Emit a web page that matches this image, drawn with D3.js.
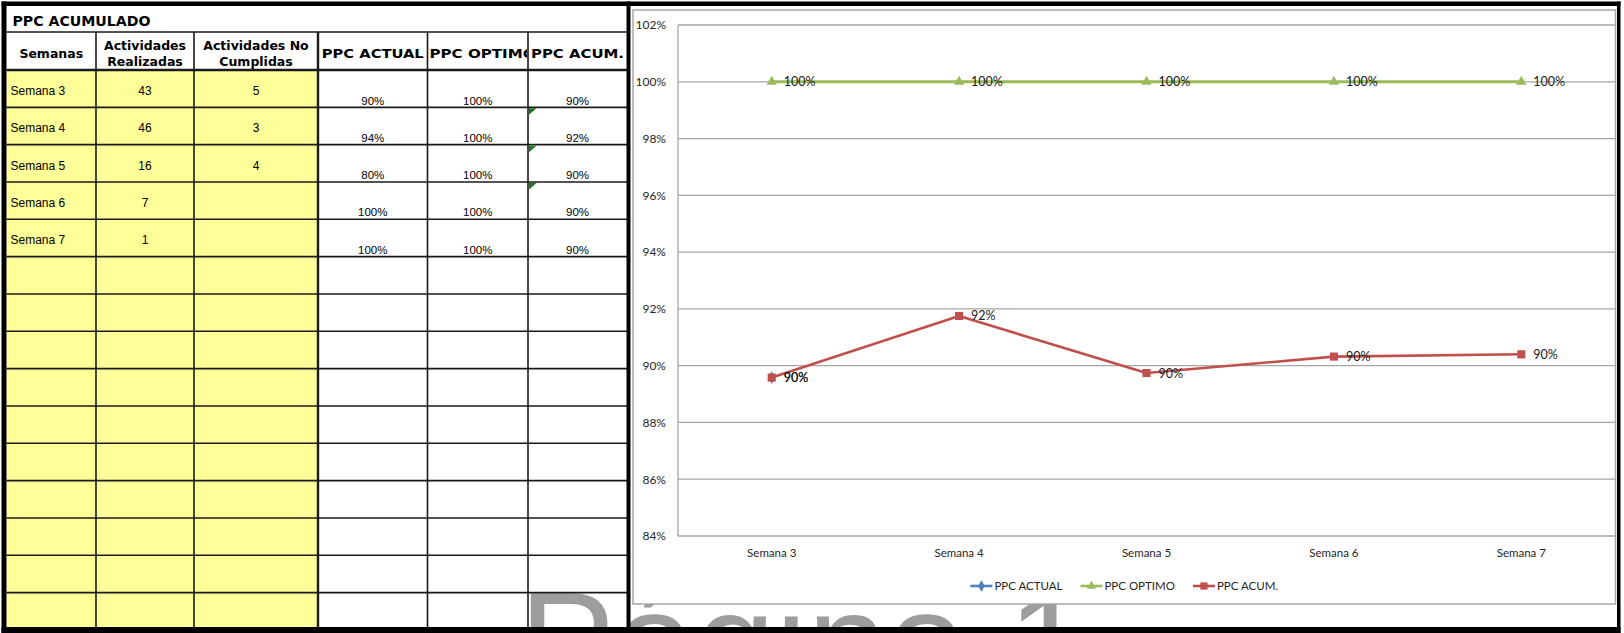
<!DOCTYPE html>
<html>
<head>
<meta charset="utf-8">
<script src="https://cdn.jsdelivr.net/npm/d3@7"></script>
<style>
  html, body { margin: 0; padding: 0; background: #ffffff; }
  svg { display: block; }
</style>
</head>
<body>
<svg id="chart" width="1624" height="633"></svg>
<script>
// ---------------- DATA ----------------
const semanas = ["Semana 3", "Semana 4", "Semana 5", "Semana 6", "Semana 7"];
const actividadesRealizadas = [43, 46, 16, 7, 1];
const actividadesNoCumplidas = [5, 3, 4, null, null];
const ppcActual = [0.8958, 0.9388, 0.80, 1.00, 1.00];          // table column
const ppcOptimo = [1.00, 1.00, 1.00, 1.00, 1.00];
const ppcAcum = [0.8958, 0.9175, 0.8974, 0.9032, 0.9040];
const ppcActualGrafico = [0.8958, null, null, null, null];     // chart series (only first point plotted)
const avisoCelda = [false, true, true, true, false];           // green corner marks in PPC ACUM. cells
const yTicks = [0.84, 0.86, 0.88, 0.90, 0.92, 0.94, 0.96, 0.98, 1.00, 1.02];
const tituloTabla = "PPC ACUMULADO";
const encabezados = [["Semanas"], ["Actividades", "Realizadas"], ["Actividades No", "Cumplidas"], ["PPC ACTUAL"], ["PPC OPTIMO"], ["PPC ACUM."]];
const filasVacias = 10;
const series = [
  { name: "PPC ACTUAL", values: ppcActualGrafico, color: "#4F81BD", symbol: d3.symbolDiamond, size: 48, width: 2.5 },
  { name: "PPC OPTIMO", values: ppcOptimo, color: "#9BBB59", symbol: d3.symbolTriangle, size: 46, width: 3 },
  { name: "PPC ACUM.", values: ppcAcum, color: "#C0504D", symbol: d3.symbolSquare, size: 66, width: 2.6 }
];
const marcaAgua = "Página 1";

// ---------------- LAYOUT ----------------
const svg = d3.select("#chart");
const W = 1624, H = 633;
svg.append("rect").attr("width", W).attr("height", H).attr("fill", "#ffffff");

const colX = [6.5, 96, 194, 318, 427.5, 528, 627];
const titleTop = 6, headerTop = 32, dataTop = 70, rowH = 37.33;
const nRows = semanas.length + filasVacias;
const tableBottom = dataTop + nRows * rowH;
const pctFmt = d3.format(".0%");

const table = svg.append("g");
table.append("rect").attr("x", colX[0]).attr("y", dataTop)
  .attr("width", colX[3] - colX[0]).attr("height", tableBottom - dataTop).attr("fill", "#FFFF99");

// watermark (behind chart, over table fill)
svg.append("text").attr("x", 519).attr("y", 693)
  .attr("font-family", "Liberation Sans, Arial, sans-serif").attr("font-size", 144)
  .attr("fill", "#9d9d9d").text(marcaAgua);

// table lines
const lines = svg.append("g").attr("stroke", "#1a1a1a");
lines.append("line").attr("x1", colX[0]).attr("x2", colX[6]).attr("y1", headerTop).attr("y2", headerTop).attr("stroke-width", 1.6);
lines.append("line").attr("x1", colX[0]).attr("x2", colX[6]).attr("y1", dataTop).attr("y2", dataTop).attr("stroke-width", 2.6);
d3.range(1, nRows).forEach(i => {
  lines.append("line").attr("x1", colX[0]).attr("x2", colX[6])
    .attr("y1", dataTop + i * rowH).attr("y2", dataTop + i * rowH).attr("stroke-width", 1.6);
});
colX.slice(1, 6).forEach((x, i) => {
  lines.append("line").attr("x1", x).attr("x2", x).attr("y1", headerTop).attr("y2", tableBottom)
    .attr("stroke-width", i === 2 ? 2.4 : 1.6);
});

// title
svg.append("text").attr("x", 12.5).attr("y", 25.5)
  .attr("font-family", "DejaVu Sans, Verdana, sans-serif").attr("font-weight", "bold")
  .attr("font-size", 13.5).attr("textLength", 138).attr("lengthAdjust", "spacingAndGlyphs")
  .attr("fill", "#000").text(tituloTabla);

// headers
const defs = svg.append("defs");
encabezados.forEach((hdr, c) => {
  const cx = (colX[c] + colX[c + 1]) / 2;
  defs.append("clipPath").attr("id", "clipH" + c).append("rect")
    .attr("x", colX[c] + 1).attr("y", headerTop).attr("width", colX[c + 1] - colX[c] - 2).attr("height", dataTop - headerTop);
  const g = svg.append("g").attr("clip-path", `url(#clipH${c})`);
  const base = t => t.attr("font-family", "DejaVu Sans, Verdana, sans-serif").attr("font-weight", "bold")
    .attr("font-size", 12.5).attr("fill", "#000");
  if (hdr.length === 2) {
    hdr.forEach((t, k) => {
      base(g.append("text").attr("x", cx).attr("y", k === 0 ? 49.5 : 65.5).attr("text-anchor", "middle")).text(t);
    });
  } else if (c === 4) {
    base(g.append("text").attr("x", colX[c] + 2).attr("y", 57.5).attr("text-anchor", "start"))
      .attr("textLength", 106).attr("lengthAdjust", "spacingAndGlyphs").text(hdr[0]);
  } else if (c >= 3) {
    const lens = {3: 102, 5: 93};
    base(g.append("text").attr("x", cx).attr("y", 57.5).attr("text-anchor", "middle"))
      .attr("textLength", lens[c]).attr("lengthAdjust", "spacingAndGlyphs").text(hdr[0]);
  } else {
    base(g.append("text").attr("x", cx).attr("y", 57.5).attr("text-anchor", "middle")).text(hdr[0]);
  }
});

// data cells
const cellFont = "Liberation Sans, Arial, sans-serif";
semanas.forEach((s, i) => {
  const top = dataTop + i * rowH;
  svg.append("text").attr("x", colX[0] + 4).attr("y", top + 25).attr("font-family", cellFont)
    .attr("font-size", 12).attr("fill", "#000").text(s);
  svg.append("text").attr("x", (colX[1] + colX[2]) / 2).attr("y", top + 25).attr("text-anchor", "middle")
    .attr("font-family", cellFont).attr("font-size", 12).attr("fill", "#000").text(actividadesRealizadas[i]);
  if (actividadesNoCumplidas[i] != null) {
    svg.append("text").attr("x", (colX[2] + colX[3]) / 2).attr("y", top + 25).attr("text-anchor", "middle")
      .attr("font-family", cellFont).attr("font-size", 12).attr("fill", "#000").text(actividadesNoCumplidas[i]);
  }
  [ppcActual[i], ppcOptimo[i], ppcAcum[i]].forEach((v, k) => {
    const c = 3 + k;
    svg.append("text").attr("x", (colX[c] + colX[c + 1]) / 2).attr("y", top + 34.5).attr("text-anchor", "middle")
      .attr("font-family", cellFont).attr("font-size", 11.5).attr("fill", "#000").text(pctFmt(v));
  });
  if (avisoCelda[i]) {
    const x0 = colX[5] + 1, y0 = top + 1;
    svg.append("path").attr("d", `M${x0},${y0}L${x0 + 7.5},${y0}L${x0},${y0 + 6.5}Z`).attr("fill", "#1F7A1F");
  }
});

// ---------------- CHART ----------------
const frame = { x: 633, y: 10, w: 982.5, h: 594 };
svg.append("rect").attr("x", frame.x).attr("y", frame.y).attr("width", frame.w).attr("height", frame.h)
  .attr("fill", "#ffffff").attr("stroke", "#a6a6a6").attr("stroke-width", 1.5);

const plot = { left: 678, right: 1615, top: 25, bottom: 536 };
const x = d3.scaleBand().domain(semanas).range([plot.left, plot.right]).padding(0);
const cx = d => x(d) + x.bandwidth() / 2;
const y = d3.scaleLinear().domain([0.84, 1.02]).range([plot.bottom, plot.top]);
const chartFont = "Lato, 'Open Sans', sans-serif";

svg.append("g").selectAll("line").data(yTicks).join("line")
  .attr("x1", plot.left).attr("x2", plot.right)
  .attr("y1", d => y(d)).attr("y2", d => y(d))
  .attr("stroke", "#a6a6a6").attr("stroke-width", 1.3);
svg.append("line").attr("x1", plot.left).attr("x2", plot.left).attr("y1", plot.top).attr("y2", plot.bottom)
  .attr("stroke", "#a6a6a6").attr("stroke-width", 1.3);

const yAxis = svg.append("g").attr("transform", `translate(${plot.left},0)`)
  .call(d3.axisLeft(y).tickValues(yTicks).tickFormat(d3.format(".0%")).tickSize(0).tickPadding(12));
yAxis.select(".domain").remove();
yAxis.selectAll("text").attr("font-family", chartFont).attr("font-size", 12).attr("fill", "#262626");

const xAxis = svg.append("g").attr("transform", `translate(0,${plot.bottom})`)
  .call(d3.axisBottom(x).tickSize(0).tickPadding(13));
xAxis.select(".domain").remove();
xAxis.selectAll("text").attr("font-family", chartFont).attr("font-size", 11.5).attr("fill", "#262626");

const lineGen = d3.line().defined(d => d.v != null).x(d => cx(d.s)).y(d => y(d.v));
series.forEach(sr => {
  const pts = semanas.map((s, i) => ({ s, v: sr.values[i] }));
  svg.append("path").datum(pts).attr("d", lineGen).attr("fill", "none")
    .attr("stroke", sr.color).attr("stroke-width", sr.width).attr("stroke-linejoin", "round");
  const valid = pts.filter(p => p.v != null);
  svg.append("g").selectAll("path").data(valid).join("path")
    .attr("d", d3.symbol().type(sr.symbol).size(sr.size))
    .attr("transform", d => `translate(${cx(d.s)},${y(d.v)})`)
    .attr("fill", sr.color);
  sr.pts = valid;
});
series.forEach(sr => {
  svg.append("g").selectAll("text").data(sr.pts).join("text")
    .attr("x", d => cx(d.s) + 12).attr("y", d => y(d.v)).attr("dy", "0.36em")
    .attr("font-family", chartFont).attr("font-size", 12.5).attr("fill", "#1a1a1a")
    .text(d => pctFmt(d.v));
});

// legend
const legY = 586;
const leg = svg.append("g");
const items = series.map(sr => {
  const g = leg.append("g");
  g.append("line").attr("x1", 0).attr("x2", 22).attr("y1", legY).attr("y2", legY)
    .attr("stroke", sr.color).attr("stroke-width", 2.6);
  g.append("path").attr("d", d3.symbol().type(sr.symbol).size(sr.size * 0.8)())
    .attr("transform", `translate(11,${legY})`).attr("fill", sr.color);
  const t = g.append("text").attr("x", 24).attr("y", legY).attr("dy", "0.36em")
    .attr("font-family", chartFont).attr("font-size", 11.5).attr("fill", "#262626").text(sr.name);
  return { g, w: 24 + t.node().getComputedTextLength() };
});
const gap = 18;
const total = d3.sum(items, d => d.w) + gap * (items.length - 1);
let lx = (frame.x + frame.x + frame.w) / 2 - total / 2;
items.forEach(it => { it.g.attr("transform", `translate(${lx},0)`); lx += it.w + gap; });

// ---------------- BLACK BORDERS ----------------
const borders = svg.append("g").attr("fill", "#000");
borders.append("rect").attr("x", 1.5).attr("y", 1.5).attr("width", 1619).attr("height", 4.5);
borders.append("rect").attr("x", 1.5).attr("y", 1.5).attr("width", 5).attr("height", 631.5);
borders.append("rect").attr("x", 626.5).attr("y", 1.5).attr("width", 4).attr("height", 631.5);
borders.append("rect").attr("x", 1617).attr("y", 1.5).attr("width", 3.5).attr("height", 631.5);
borders.append("rect").attr("x", 1.5).attr("y", 627).attr("width", 1619).attr("height", 6);
</script>
</body>
</html>
